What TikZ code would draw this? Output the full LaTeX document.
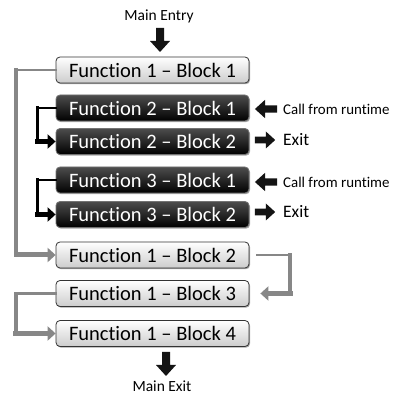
\documentclass[tikz,border=0pt]{standalone}
\usepackage{fontspec}
\setmainfont{Carlito}[Ligatures={TeX,NoCommon}]
\usetikzlibrary{arrows.meta,shadows}
\definecolor{lineg}{RGB}{135,135,135}
\tikzset{
  fbox/.style={rounded corners=4pt, minimum width=193pt, minimum height=26pt, inner sep=0pt,
    font=\fontsize{20.5}{21}\selectfont,
    drop shadow={shadow xshift=1pt, shadow yshift=-1.2pt, opacity=0.35, fill=black}},
  lightbox/.style={fbox, draw=black!80, line width=0.8pt, top color=white, bottom color=black!20, text=black},
  darkbox/.style={fbox, draw=black!55, line width=0.8pt, top color=black!70, middle color=black, bottom color=black, text=white},
  gcon/.style={draw=lineg, line cap=rect},
  bcon/.style={draw=black, line cap=rect},
  tip/.style={-{Triangle[width=14pt,length=8pt]}},
  lbl/.style={inner sep=0pt, anchor=west, font=\fontsize{14.9}{16}\selectfont},
  exitlbl/.style={inner sep=0pt, anchor=west, font=\fontsize{17.5}{18}\selectfont},
  mainlbl/.style={inner sep=0pt, font=\fontsize{15.5}{16}\selectfont},
  barrow/.pic={\fill[black!92] (-4,-12) -- (4,-12) -- (4,1) -- (10,1) -- (0,12) -- (-10,1) -- (-4,1) -- cycle;}
}
\begin{document}
\begin{tikzpicture}[x=1pt,y=-1pt]
\useasboundingbox[fill=white] (0,0) rectangle (400,395);

% coordinates for connector bends
\coordinate (g1) at (16,70);
\coordinate (g2) at (16,255);
\coordinate (k1) at (37,108);
\coordinate (k2) at (37,141.5);
\coordinate (m1) at (37,180);
\coordinate (m2) at (37,214.5);
\coordinate (r1) at (290,255);
\coordinate (r2) at (290,293.5);
\coordinate (l1) at (16,293.5);
\coordinate (l2) at (16,333.5);

% boxes
\node[lightbox] (a1) at (152.5,70) {Function 1 – Block 1};
\node[darkbox]  (b1) at (152.5,108) {Function 2 – Block 1};
\node[darkbox]  (b2) at (152.5,141.5) {Function 2 – Block 2};
\node[darkbox]  (c1) at (152.5,180) {Function 3 – Block 1};
\node[darkbox]  (c2) at (152.5,214.5) {Function 3 – Block 2};
\node[lightbox] (a2) at (152.5,255) {Function 1 – Block 2};
\node[lightbox] (a3) at (152.5,293.5) {Function 1 – Block 3};
\node[lightbox] (a4) at (152.5,333.5) {Function 1 – Block 4};

% gray connector F1B1 -> F1B2
\draw[gcon, line width=2.6pt] (a1.west) -- (g1);
\draw[gcon, line width=3.6pt] (g1) -- (g2);
\draw[gcon, line width=5pt, tip] (g2) -- (a2.west);

% black connector F2B1 -> F2B2
\draw[bcon, line width=1.8pt] (b1.west) -- (k1);
\draw[bcon, line width=3pt] (k1) -- (k2);
\draw[bcon, line width=4.5pt, tip] (k2) -- (b2.west);

% black connector F3B1 -> F3B2
\draw[bcon, line width=1.8pt] (c1.west) -- (m1);
\draw[bcon, line width=3pt] (m1) -- (m2);
\draw[bcon, line width=4.5pt, tip] (m2) -- (c2.west);

% gray connector F1B2 -> F1B3
\draw[gcon, line width=2.6pt, shorten <=8pt] (a2.east) -- (r1);
\draw[gcon, line width=4pt] (r1) -- (r2);
\draw[gcon, line width=5.5pt, tip, shorten >=11pt] (r2) -- (a3.east);

% gray connector F1B3 -> F1B4
\draw[gcon, line width=2.6pt] (a3.west) -- (l1);
\draw[gcon, line width=3.8pt] (l1) -- (l2);
\draw[gcon, line width=5.5pt, tip] (l2) -- (a4.west);

% labels
\node[mainlbl] (entry) at (159,16) {Main Entry};
\node[mainlbl] (mexit) at (162,386) {Main Exit};
\node[lbl] (call2) at (283,109) {Call from runtime};
\node[exitlbl] (exit2) at (283,140) {Exit};
\node[lbl] (call3) at (283,182) {Call from runtime};
\node[exitlbl] (exit3) at (283,212) {Exit};

% block arrows
\pic at (160,40) {barrow};
\pic at (166,364) {barrow};
\pic[rotate=-90, scale=0.92] at (266,109) {barrow};
\pic[rotate=90, scale=0.85] at (265,140) {barrow};
\pic[rotate=-90, scale=0.92] at (266,182) {barrow};
\pic[rotate=90, scale=0.85] at (265,212) {barrow};
\end{tikzpicture}
\end{document}
